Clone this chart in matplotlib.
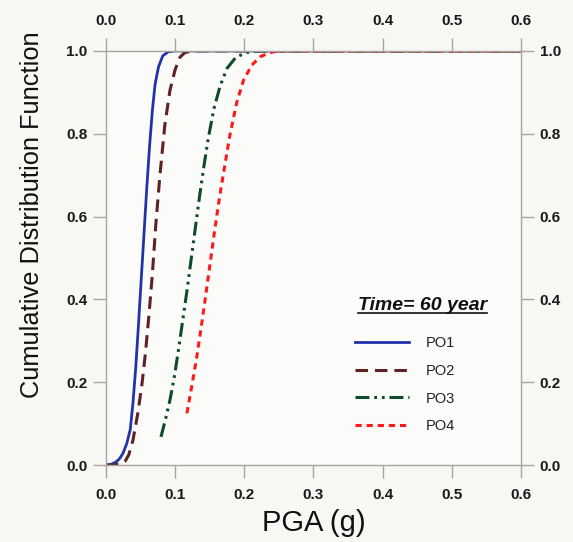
import matplotlib
matplotlib.use("Agg")
import matplotlib.pyplot as plt
from matplotlib.lines import Line2D

# CDF curves (PGA in g, CDF)
po1_x = [0.000, 0.008, 0.015, 0.020, 0.025, 0.030, 0.035, 0.039, 0.043, 0.047,
         0.051, 0.055, 0.059, 0.063, 0.067, 0.071, 0.076, 0.082, 0.090, 0.100, 0.600]
po1_y = [0.000, 0.002, 0.008, 0.016, 0.030, 0.052, 0.085, 0.150, 0.235, 0.340,
         0.450, 0.560, 0.670, 0.770, 0.855, 0.920, 0.962, 0.988, 0.998, 1.000, 1.000]

po2_x = [0.000, 0.012, 0.022, 0.028, 0.033, 0.039, 0.046, 0.052, 0.057, 0.062,
         0.067, 0.072, 0.078, 0.085, 0.0925, 0.100, 0.107, 0.114, 0.125, 0.600]
po2_y = [0.000, 0.000, 0.003, 0.010, 0.025, 0.060, 0.125, 0.195, 0.270, 0.360,
         0.460, 0.580, 0.700, 0.820, 0.905, 0.955, 0.985, 0.996, 1.000, 1.000]

po3_x = [0.0795, 0.086, 0.0925, 0.099, 0.105, 0.111, 0.117, 0.123, 0.129, 0.135,
         0.141, 0.148, 0.156, 0.165, 0.175, 0.188, 0.203, 0.220, 0.600]
po3_y = [0.068, 0.110, 0.157, 0.215, 0.280, 0.350, 0.420, 0.495, 0.570, 0.645,
         0.715, 0.790, 0.860, 0.915, 0.958, 0.985, 0.996, 1.000, 1.000]

po4_x = [0.117, 0.124, 0.131, 0.137, 0.143, 0.150, 0.157, 0.164, 0.171, 0.179,
         0.189, 0.199, 0.211, 0.223, 0.237, 0.250, 0.600]
po4_y = [0.125, 0.190, 0.258, 0.325, 0.395, 0.480, 0.565, 0.645, 0.715, 0.795,
         0.875, 0.930, 0.966, 0.986, 0.996, 1.000, 1.000]

labels = ["PO1", "PO2", "PO3", "PO4"]
colors = ["#2233aa", "#5e2124", "#0f4b2b", "#ff1a1a"]
legend_title = "Time= 60 year"

x_ticks = [0.0, 0.1, 0.2, 0.3, 0.4, 0.5, 0.6]
y_ticks = [0.0, 0.2, 0.4, 0.6, 0.8, 1.0]

plt.rcParams['font.family'] = ['Liberation Sans', 'DejaVu Sans']
plt.rcParams['lines.scale_dashes'] = False

fig = plt.figure(figsize=(5.73, 5.42), dpi=100, facecolor='#f7f7f4')
ax = fig.add_axes([0.185, 0.142, 0.724, 0.764])
ax.set_facecolor('#fbfbf9')

ax.plot(po1_x, po1_y, color=colors[0], lw=2.0, label=labels[0])
ax.plot(po2_x, po2_y, color=colors[1], lw=2.2, dashes=(9, 5), label=labels[1])
ax.plot(po3_x, po3_y, color=colors[2], lw=2.2, dashes=(10, 3.5, 2, 3.5, 2, 3.5), label=labels[2])
ax.plot(po4_x, po4_y, color=colors[3], lw=2.2, dashes=(4.5, 3.5), label=labels[3])

ax.set_xlim(0, 0.6)
ax.set_ylim(0, 1.0)
ax.set_xticks(x_ticks)
ax.set_yticks(y_ticks)
ax.xaxis.set_major_formatter(plt.FormatStrFormatter('%.1f'))
ax.yaxis.set_major_formatter(plt.FormatStrFormatter('%.1f'))

for s in ax.spines.values():
    s.set_color('#a8a4a0')
    s.set_linewidth(1.0)

ax.tick_params(axis='both', which='both', direction='out', length=9.5, width=1.0,
               color='#a8a4a0', labelsize=11, labelcolor='#1a1a1a',
               top=True, right=True, labeltop=True, labelright=True)
ax.tick_params(axis='x', pad=7)
ax.tick_params(axis='y', pad=4)
for lab in ax.get_xticklabels() + ax.get_yticklabels():
    lab.set_fontweight('bold')

ax.set_xlabel('PGA (g)', fontsize=21, color='#111111', labelpad=5)
ax.set_ylabel('Cumulative Distribution Function', fontsize=18.3, color='#111111')
ax.yaxis.set_label_coords(-0.149, 0.604)

leg = ax.legend(loc='upper left', bbox_to_anchor=(0.6, 0.312), frameon=False,
                fontsize=10.5, handlelength=3.7, handletextpad=1.15,
                labelspacing=0.95, borderpad=0, borderaxespad=0)
for t in leg.get_texts():
    t.set_color('#222222')

title = ax.text(0.607, 0.386, legend_title, transform=ax.transAxes,
                fontsize=14, fontweight='bold', fontstyle='italic',
                color='#111111', ha='left', va='center')

# underline the legend title
fig.canvas.draw()
bb = title.get_window_extent(renderer=fig.canvas.get_renderer())
inv = fig.transFigure.inverted()
(x0, y0), (x1, _) = inv.transform([(bb.x0, bb.y0 + 1), (bb.x1, bb.y0)])
fig.add_artist(Line2D([x0, x1], [y0, y0], transform=fig.transFigure,
                      color='#111111', lw=1.2))

fig.savefig('out.png', dpi=100, facecolor=fig.get_facecolor())
